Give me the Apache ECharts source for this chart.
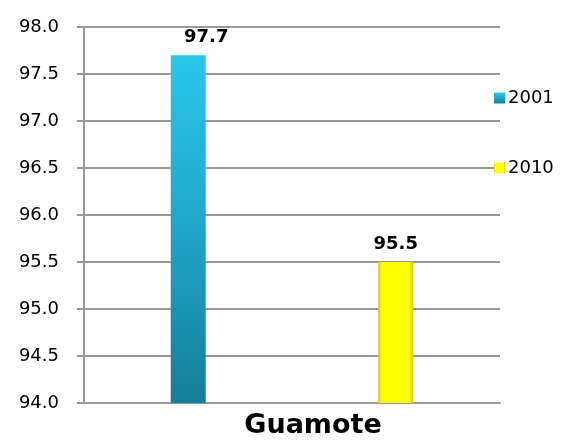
<!DOCTYPE html>
<html><head><meta charset="utf-8">
<script src="https://cdn.jsdelivr.net/npm/echarts@6/dist/echarts.min.js"></script>
<style>html,body{margin:0;padding:0;background:#fff}#c{width:571px;height:440px}</style>
</head><body><div id="c"></div>
<script>
var categories = ['Guamote'];
var seriesNames = ['2001', '2010'];
var values2001 = [97.7];
var values2010 = [95.5];
var yMin = 94, yMax = 98, yStep = 0.5;

var chart = echarts.init(document.getElementById('c'));
var tealFill = new echarts.graphic.LinearGradient(0, 0, 0, 1, [
  {offset: 0, color: '#2cc6ea'}, {offset: 0.5, color: '#1fa6c8'}, {offset: 1, color: '#167d98'}
]);
var yellowFill = new echarts.graphic.LinearGradient(0, 0, 1, 0, [
  {offset: 0, color: '#d4d400'}, {offset: 0.12, color: '#ffff00'}, {offset: 0.88, color: '#ffff00'}, {offset: 1, color: '#caca00'}
]);
function labelStyle(dx) {
  return {show: true, position: 'top', distance: 9, offset: [dx, 0], fontFamily: 'DejaVu Sans', fontWeight: 'bold', fontSize: 18, color: '#000',
    formatter: function (p) { return p.value.toFixed(1); }};
}
chart.setOption({
  animation: false,
  grid: {left: 84, right: 71, top: 27, bottom: 37},
  legend: {
    orient: 'vertical', left: 489, top: 84, itemWidth: 11, itemHeight: 11, itemGap: 52,
    icon: 'rect',
    textStyle: {fontFamily: 'DejaVu Sans', fontSize: 18, color: '#000', padding: [0, 0, 0, -2]},
    data: seriesNames
  },
  xAxis: {
    type: 'category', data: categories,
    axisLine: {lineStyle: {color: '#999', width: 2}},
    axisTick: {show: false},
    axisLabel: {fontFamily: 'DejaVu Sans', fontWeight: 'bold', fontSize: 27, color: '#000', margin: 9,
      padding: [0, 0, 0, 42]}
  },
  yAxis: {
    type: 'value', min: yMin, max: yMax, interval: yStep,
    axisLine: {show: true, lineStyle: {color: '#999', width: 2}},
    axisTick: {show: true, length: 7, lineStyle: {color: '#999', width: 2}},
    splitLine: {lineStyle: {color: '#999', width: 2}},
    axisLabel: {fontFamily: 'DejaVu Sans', fontSize: 18, color: '#000', margin: 25,
      formatter: function (v) { return v.toFixed(1); }}
  },
  series: [
    {name: seriesNames[0], type: 'bar', data: values2001, barWidth: 35, barGap: '493%',
     itemStyle: {color: tealFill}, label: labelStyle(18)},
    {name: seriesNames[1], type: 'bar', data: values2010, barWidth: 35,
     itemStyle: {color: yellowFill}, label: labelStyle(0)}
  ]
});
</script></body></html>
